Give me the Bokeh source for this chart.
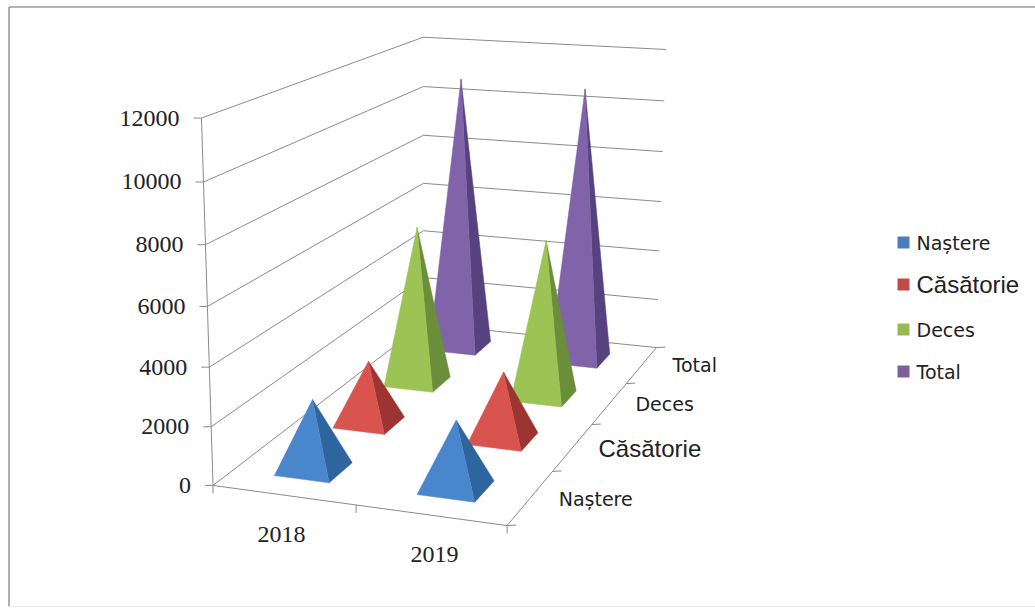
import numpy as np
from bokeh.core.properties import value
from bokeh.embed import file_html
from bokeh.models import Range1d
from bokeh.plotting import figure
from bokeh.resources import INLINE

# Chart values
years = ["2018", "2019"]
series = ["Naștere", "Căsătorie", "Deces", "Total"]
nastere = [2420, 2300]
casatorie = [2270, 2420]
deces = [6000, 5920]
total = [10800, 10700]
value_ticks = [0, 2000, 4000, 6000, 8000, 10000, 12000]

# Front face and side face colour per series
front_colors = ["#4a86cc", "#d9534f", "#9bc455", "#8063a9"]
side_colors = ["#2f659f", "#9c3431", "#6b8e3a", "#56427f"]
legend_colors = ["#4a7ebb", "#be4b48", "#98b954", "#7d5fa0"]

VALUE_MAX = 12000.0
WIDTH, HEIGHT = 1035, 608

# Box corners in (category, series, value) space and where they land on the page;
# a perspective camera is fitted to them.
camera_anchors = [
    ((0, 0, 0), (212.7, 485.0)), ((1, 0, 0), (355.0, 505.0)), ((2, 0, 0), (506.0, 524.5)),
    ((2, 1, 0), (551.7, 471.0)), ((2, 2, 0), (591.7, 424.0)), ((2, 3, 0), (626.7, 383.3)),
    ((2, 4, 0), (655.0, 346.5)), ((0, 4, 0), (423.0, 323.0)),
    ((0, 0, 6000), (207.0, 306.7)), ((0, 4, 6000), (423.5, 183.0)), ((2, 4, 6000), (661.7, 201.7)),
    ((0, 0, 12000), (201.7, 116.7)), ((0, 4, 12000), (421.7, 36.7)), ((2, 4, 12000), (665.0, 49.0)),
]


def fit_camera(anchors):
    rows, rhs = [], []
    for (a, b, c), (u, v) in anchors:
        c = c / VALUE_MAX
        rows.append([a, b, c, 1, 0, 0, 0, 0, -u * a, -u * b, -u * c])
        rows.append([0, 0, 0, 0, a, b, c, 1, -v * a, -v * b, -v * c])
        rhs += [u, v]
    m = np.linalg.lstsq(np.array(rows, float), np.array(rhs, float), rcond=None)[0]
    return np.append(m, 1.0).reshape(3, 4)


CAMERA = fit_camera(camera_anchors)


def project(a, b, c):
    h = CAMERA @ np.array([a, b, c / VALUE_MAX, 1.0])
    return float(h[0] / h[2]), float(h[1] / h[2])


p = figure(width=WIDTH, height=HEIGHT, output_backend="svg", toolbar_location=None,
           x_range=Range1d(0, WIDTH), y_range=Range1d(HEIGHT, 0), min_border=0,
           background_fill_color="white", border_fill_color="white", outline_line_color=None)
p.axis.visible = False
p.grid.visible = False

# Chart area border: top and left edges are strong, the bottom one is faint
p.line([8.5, 8.5], [6.5, 606], line_color="#9a9a9a", line_width=1.6)
p.line([8.5, WIDTH], [6.5, 6.5], line_color="#9a9a9a", line_width=1.6)
p.line([8.5, WIDTH], [606, 606], line_color="#ececec", line_width=1)

AXIS_GRAY = "#8a8a8a"
nx, ny = len(years), len(series)
wall_xs, wall_ys = [], []


def segment(start, end):
    wall_xs.append([start[0], end[0]])
    wall_ys.append([start[1], end[1]])


# Gridlines along the left wall and the back wall, with the value tick marks
for v in value_ticks:
    a, b, c = project(0, 0, v), project(0, ny, v), project(nx, ny, v)
    wall_xs.append([a[0], b[0], c[0]])
    wall_ys.append([a[1], b[1], c[1]])
    segment((a[0] - 8, a[1]), a)

# Vertical value axis
segment(project(0, 0, 0), project(0, 0, VALUE_MAX))

# Floor edges and their tick marks
segment(project(0, 0, 0), project(nx, 0, 0))
segment(project(nx, 0, 0), project(nx, ny, 0))
for i in range(nx + 1):
    pt = project(i, 0, 0)
    segment(pt, (pt[0], pt[1] + 8))
for j in range(ny + 1):
    pt = project(nx, j, 0)
    segment(pt, (pt[0] + 9, pt[1] - 0.5))

p.multi_line(wall_xs, wall_ys, line_color=AXIS_GRAY, line_width=1)

# Pyramids, furthest row first so the nearer ones cover them
HALF_X = 0.195
HALF_Y = 0.2
CENTER_SHIFT = -0.005
rows = [nastere, casatorie, deces, total]
for j in reversed(range(ny)):
    for i in range(nx):
        height = rows[j][i]
        cx, cy = i + 0.5 + CENTER_SHIFT, j + 0.5
        apex = project(cx, cy, height)
        fl = project(cx - HALF_X, cy - HALF_Y, 0)
        fr = project(cx + HALF_X, cy - HALF_Y, 0)
        br = project(cx + HALF_X, cy + HALF_Y, 0)
        p.patch([apex[0], fr[0], br[0]], [apex[1], fr[1], br[1]],
                fill_color=side_colors[j], line_color=side_colors[j], line_width=0.5)
        p.patch([apex[0], fl[0], fr[0]], [apex[1], fl[1], fr[1]],
                fill_color=front_colors[j], line_color=front_colors[j], line_width=0.5)

# Value labels
SERIF = value("Liberation Serif")
SANS = value("Liberation Sans")
LABEL = value("DejaVu Sans")
TEXT = "#222222"
lab_x, lab_y, lab_t = [], [], []
for v in value_ticks:
    x0, y0 = project(0, 0, v)
    lab_x.append(x0 - 22)
    lab_y.append(y0)
    lab_t.append(str(v))
p.text(lab_x, lab_y, text=lab_t, text_font=SERIF, text_font_size="24px", text_color=TEXT,
       text_align="right", text_baseline="middle")

# Category labels under the front edge
year_label_offsets = [-2, 4]
for i, year in enumerate(years):
    x0, y0 = project(i + 0.5, 0, 0)
    p.text([x0 + year_label_offsets[i]], [y0 + 39], text=[year], text_font=SERIF,
           text_font_size="24px", text_color=TEXT, text_align="center", text_baseline="middle")

# Series labels beside the right edge; the second one is set in a different face
series_label_offsets = [(65, 2), (77, 1.5), (55, 1), (53, 0)]
for j, name in enumerate(series):
    x0, y0 = project(nx, j + 0.5, 0)
    font, size = (SANS, "24px") if j == 1 else (LABEL, "19px")
    dx, dy = series_label_offsets[j]
    p.text([x0 + dx], [y0 + dy], text=[name], text_font=font,
           text_font_size=size, text_color=TEXT, text_align="center", text_baseline="middle")

# Legend
legend_rows = [242, 284, 329, 371]
for name, color, y, j in zip(series, legend_colors, legend_rows, range(ny)):
    p.rect([903], [y], width=12, height=12, fill_color=color, line_color=None)
    font, size = (SANS, "24px") if j == 1 else (LABEL, "19px")
    p.text([916], [y], text=[name], text_font=font, text_font_size=size, text_color=TEXT,
           text_align="left", text_baseline="middle")

open("out.html", "w").write(file_html(p, INLINE))
